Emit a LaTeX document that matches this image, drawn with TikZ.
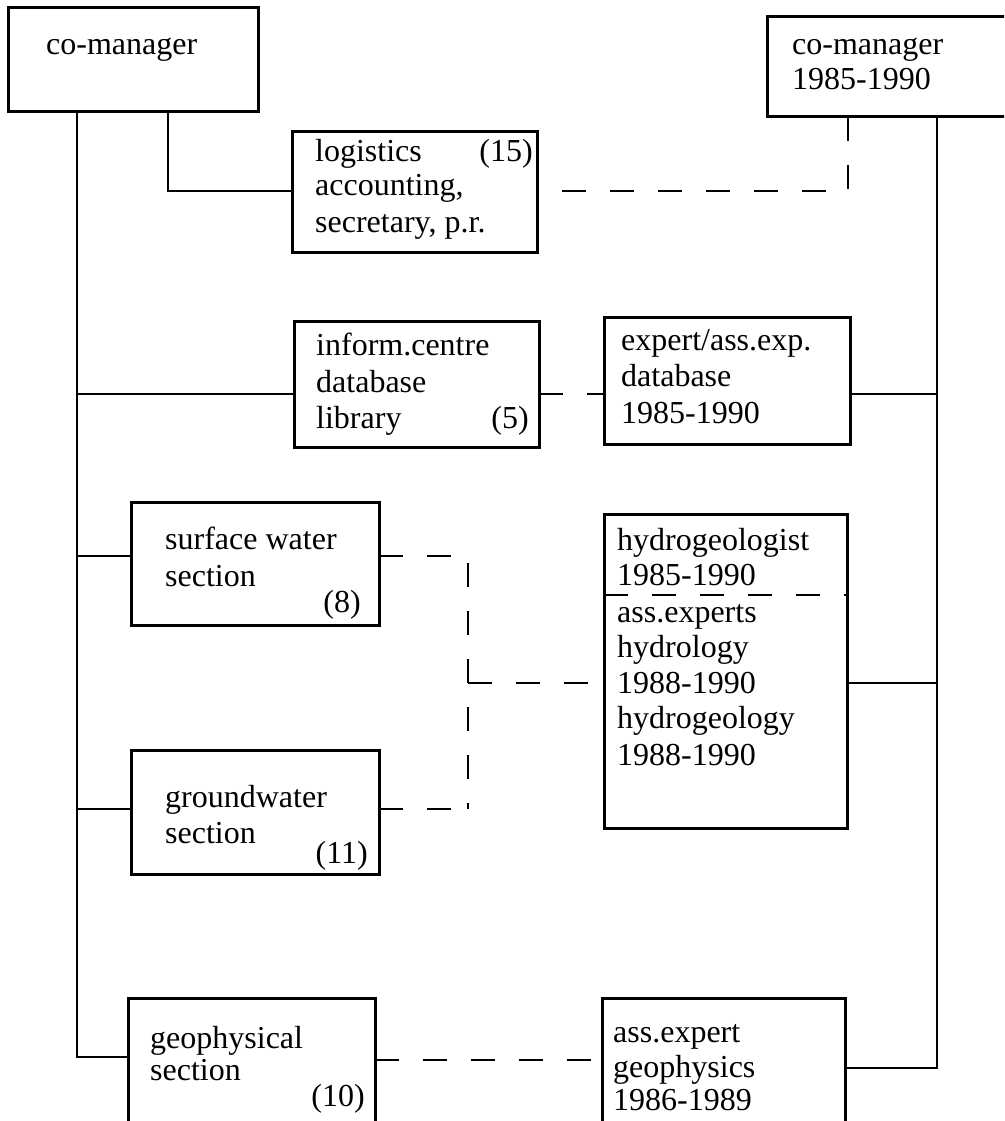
\documentclass[tikz,border=0pt]{standalone}
\usepackage{fontspec}
\setmainfont{Liberation Serif}
\begin{document}
\begin{tikzpicture}[x=1pt,y=-1pt,
  box/.style={draw,line width=3pt,inner sep=0pt,outer sep=0pt,anchor=north west},
  conn/.style={line width=1.8pt},
  dsh/.style={line width=1.8pt,dash pattern=on 24pt off 24pt},
  lbl/.style={anchor=base west,inner sep=0pt,font=\fontsize{32}{37}\selectfont},
  num/.style={anchor=base east,inner sep=0pt,font=\fontsize{32}{37}\selectfont}]
\useasboundingbox (0,0) rectangle (1004,1121);
\clip (0,0) rectangle (1004,1121);
% boxes
\node[box,minimum width=250pt,minimum height=104pt] (lm) at (8,8) {};
\node[box,minimum width=260pt,minimum height=100pt] (rm) at (767,17) {};
\node[box,minimum width=245pt,minimum height=120pt] (log) at (292,132) {};
\node[box,minimum width=245pt,minimum height=126pt] (inf) at (294,321) {};
\node[box,minimum width=246pt,minimum height=127pt] (exp) at (604,317) {};
\node[box,minimum width=248pt,minimum height=123pt] (sw) at (131,502) {};
\node[box,minimum width=243pt,minimum height=314pt] (hyd) at (604,514) {};
\node[box,minimum width=248pt,minimum height=124pt] (gw) at (131,750) {};
\node[box,minimum width=247pt,minimum height=140pt] (geo) at (128,998) {};
\node[box,minimum width=243pt,minimum height=140pt] (ase) at (602,998) {};
% texts
\node[lbl] (t1) at (46,55) {co-manager};
\node[lbl] (t2) at (792,55) {co-manager};
\node[lbl] (t3) at (792,90) {1985-1990};
\node[lbl] (t4) at (315,161) {logistics};
\node[lbl] (t5) at (315,195) {accounting,};
\node[lbl] (t6) at (315,232) {secretary, p.r.};
\node[num] (t7) at (533,161) {(15)};
\node[lbl] (t8) at (316,355) {inform.centre};
\node[lbl] (t9) at (316,392) {database};
\node[lbl] (t10) at (316,428) {library};
\node[num] (t11) at (529,428) {(5)};
\node[lbl] (t12) at (621,350) {expert/ass.exp.};
\node[lbl] (t13) at (621,386) {database};
\node[lbl] (t14) at (621,423) {1985-1990};
\node[lbl] (t15) at (165,549) {surface water};
\node[lbl] (t16) at (165,586) {section};
\node[num] (t17) at (361,612) {(8)};
\node[lbl] (t18) at (617,550) {hydrogeologist};
\node[lbl] (t19) at (617,585) {1985-1990};
\node[lbl] (t20) at (617,622) {ass.experts};
\node[lbl] (t21) at (617,657) {hydrology};
\node[lbl] (t22) at (617,693) {1988-1990};
\node[lbl] (t23) at (617,728) {hydrogeology};
\node[lbl] (t24) at (617,765) {1988-1990};
\node[lbl] (t25) at (165,807) {groundwater};
\node[lbl] (t26) at (165,843) {section};
\node[num] (t27) at (368,863) {(11)};
\node[lbl] (t28) at (150,1048) {geophysical};
\node[lbl] (t29) at (150,1080) {section};
\node[num] (t30) at (365,1106) {(10)};
\node[lbl] (t31) at (613,1042) {ass.expert};
\node[lbl] (t32) at (613,1077) {geophysics};
\node[lbl] (t33) at (613,1110) {1986-1989};
% reference coordinates
\coordinate (tL) at (77,0);
\coordinate (tR) at (937,0);
\coordinate (xLog) at (168,0);
\coordinate (xDv) at (468,0);
\coordinate (xRd) at (848,0);
\coordinate (yLog) at (0,191);
\coordinate (yInf) at (0,394);
\coordinate (ySw) at (0,556);
\coordinate (yHd) at (0,595);
\coordinate (yHyd) at (0,683);
\coordinate (yGw) at (0,809);
\coordinate (yGeoL) at (0,1057);
\coordinate (yGeoD) at (0,1060);
\coordinate (yAse) at (0,1068);
% solid connectors
\draw[conn] (lm.south -| tL) |- (geo.west |- yGeoL);
\draw[conn] (tL |- yInf) -- (inf.west |- yInf);
\draw[conn] (tL |- ySw) -- (sw.west |- ySw);
\draw[conn] (tL |- yGw) -- (gw.west |- yGw);
\draw[conn] (lm.south -| xLog) |- (log.west |- yLog);
\draw[conn] (rm.south -| tR) |- (ase.east |- yAse);
\draw[conn] (exp.east |- yInf) -- (tR |- yInf);
\draw[conn] (hyd.east |- yHyd) -- (tR |- yHyd);
% dashed connectors
\draw[dsh] (rm.south -| xRd) |- (log.east |- yLog);
\draw[dsh] (inf.east |- yInf) -- (exp.west |- yInf);
\draw[dsh] (sw.east |- ySw) -| (xDv |- yGw);
\draw[dsh] (gw.east |- yGw) -- (xDv |- yGw);
\draw[dsh] (xDv |- yHyd) -- (hyd.west |- yHyd);
\draw[dsh] (hyd.west |- yHd) -- (hyd.east |- yHd);
\draw[dsh] (geo.east |- yGeoD) -- (ase.west |- yGeoD);
\end{tikzpicture}
\end{document}
